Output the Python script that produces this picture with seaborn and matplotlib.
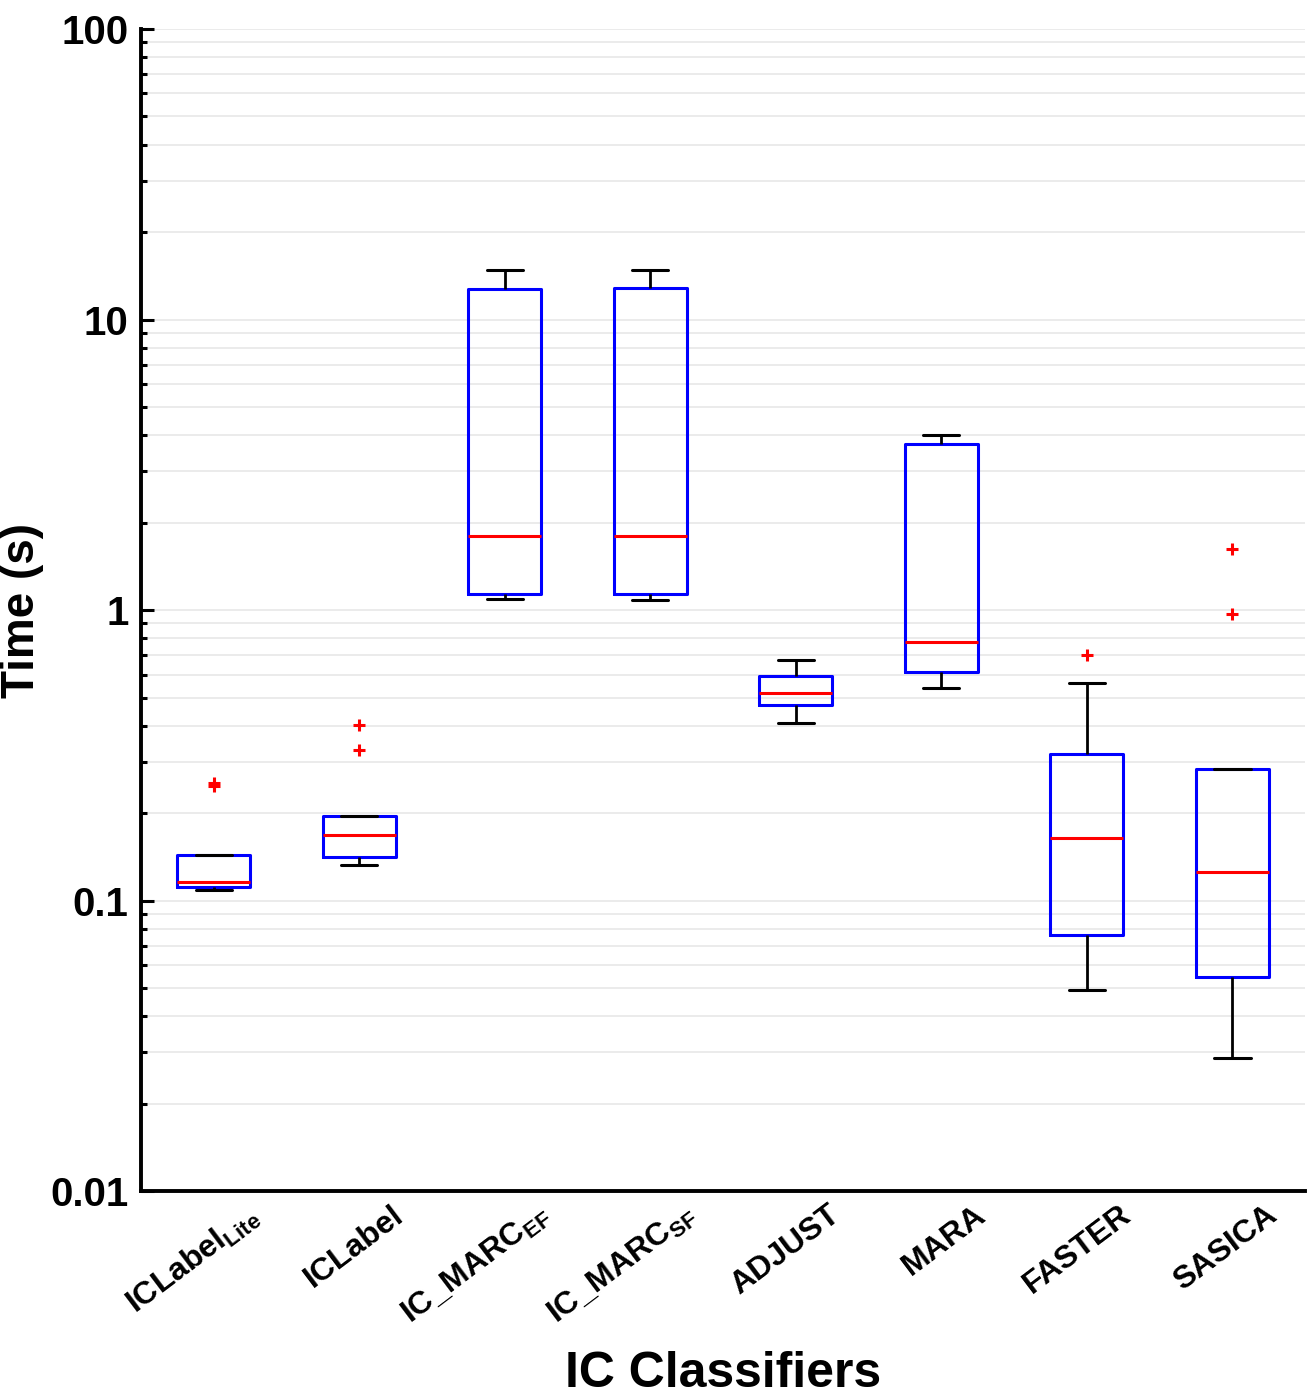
import numpy as np
import pandas as pd
import matplotlib
matplotlib.use("Agg")
import matplotlib.pyplot as plt
import matplotlib.transforms as mtransforms
from matplotlib.ticker import LogLocator, NullFormatter
import seaborn as sns

# classifier names and the tick labels shown under the axis
classifiers = ["ICLabel_Lite", "ICLabel", "IC_MARC_EF", "IC_MARC_SF",
               "ADJUST", "MARA", "FASTER", "SASICA"]
tick_labels = [r"ICLabel$_{\mathbf{Lite}}$", "ICLabel", r"IC_MARC$_{\mathbf{EF}}$",
               r"IC_MARC$_{\mathbf{SF}}$", "ADJUST", "MARA", "FASTER", "SASICA"]

# computation time per run (s)
iclabel_lite = [0.1086, 0.1100, 0.1112, 0.1135, 0.1159, 0.1300, 0.1440, 0.248, 0.2536]
iclabel = [0.1324, 0.1370, 0.1412, 0.1550, 0.1680, 0.1820, 0.1954, 0.330, 0.402]
ic_marc_ef = [1.091, 1.135, 1.798, 12.74, 14.8]
ic_marc_sf = [1.083, 1.135, 1.798, 12.84, 14.8]
adjust = [0.408, 0.471, 0.518, 0.593, 0.673]
mara = [0.539, 0.612, 0.776, 3.73, 4.0]
faster = [0.0492, 0.0620, 0.0760, 0.1200, 0.164, 0.2400, 0.3193, 0.561, 0.700]
sasica = [0.0287, 0.0400, 0.0546, 0.0900, 0.1254, 0.2000, 0.2840, 0.969, 1.622]

times = [iclabel_lite, iclabel, ic_marc_ef, ic_marc_sf, adjust, mara, faster, sasica]
df = pd.DataFrame({
    "classifier": np.repeat(classifiers, [len(t) for t in times]),
    "time": np.concatenate(times),
})

sns.set_theme(style="white")
plt.rcParams["font.family"] = ["Liberation Sans", "DejaVu Sans"]
plt.rcParams["mathtext.fontset"] = "custom"
plt.rcParams["mathtext.rm"] = "Liberation Sans"
plt.rcParams["mathtext.bf"] = "Liberation Sans:bold"
plt.rcParams["mathtext.it"] = "Liberation Sans:italic"
for key in ["text.color", "axes.labelcolor", "xtick.color", "ytick.color"]:
    plt.rcParams[key] = "black"

fig = plt.figure(figsize=(13.09, 13.96), dpi=100)
ax = fig.add_axes([0.1077, 0.1468, 0.8893, 0.8324])

# stats are taken on the linear values (like MATLAB), then the axis goes log
sns.boxplot(data=df, x="classifier", y="time", order=classifiers, ax=ax,
            width=0.5, fill=False, whis=1.5,
            boxprops=dict(color="blue", linewidth=2.2),
            medianprops=dict(color="red", linewidth=2.2),
            whiskerprops=dict(color="black", linewidth=2.0),
            capprops=dict(color="black", linewidth=2.2),
            flierprops=dict(marker="+", markeredgecolor="red", markersize=8,
                            markeredgewidth=2.2))

ax.set_yscale("log")
ax.set_ylim(0.01, 100)
ax.set_xlim(-0.5, 7.5)
ax.set_yticks([0.01, 0.1, 1, 10, 100])
ax.set_yticklabels(["0.01", "0.1", "1", "10", "100"])
ax.yaxis.set_minor_locator(LogLocator(base=10, subs=np.arange(2, 10)))
ax.yaxis.set_minor_formatter(NullFormatter())

ax.grid(True, which="both", axis="y", color="#e6e6e6", linewidth=1.1)
ax.set_axisbelow(True)

for side in ["top", "right"]:
    ax.spines[side].set_visible(False)
for side in ["left", "bottom"]:
    ax.spines[side].set_linewidth(2.8)
    ax.spines[side].set_color("black")

ax.tick_params(axis="y", which="major", direction="in", length=9, width=2.2,
               labelsize=29, pad=9, left=True, colors="black")
ax.tick_params(axis="y", which="minor", direction="in", length=4.5, width=2.2,
               left=True, colors="black")
for lab in ax.get_yticklabels():
    lab.set_fontweight("bold")

ax.set_xticks(range(len(classifiers)))
ax.set_xticklabels(tick_labels, rotation=37, ha="right", va="top",
                   rotation_mode="anchor", fontsize=23, fontweight="bold")
ax.tick_params(axis="x", length=0, pad=4, colors="black")
offset = mtransforms.ScaledTranslation(0.32, -0.03, fig.dpi_scale_trans)
for lab in ax.get_xticklabels():
    lab.set_transform(lab.get_transform() + offset)

ax.set_xlabel("IC Classifiers", fontsize=36, fontweight="bold", color="black")
ax.set_ylabel("Time (s)", fontsize=33, fontweight="bold", color="black")
ax.xaxis.set_label_coords(0.5, -0.138)
ax.yaxis.set_label_coords(-0.083, 0.5)

fig.savefig("out.png", dpi=100, facecolor="white")
